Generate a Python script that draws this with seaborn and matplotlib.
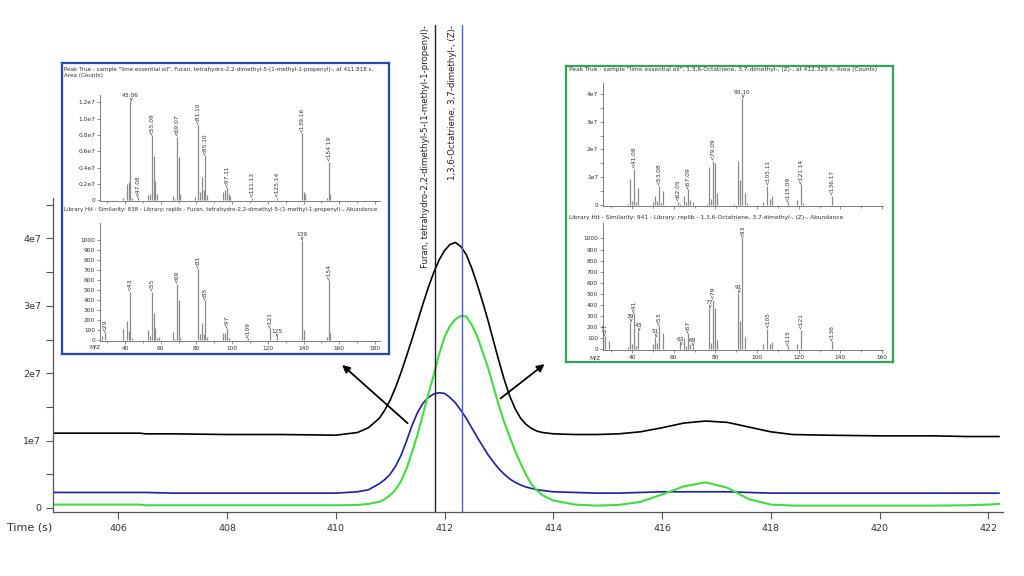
import matplotlib
matplotlib.use("Agg")
import matplotlib.pyplot as plt
import seaborn as sns
import pandas as pd

sns.set_theme(style="ticks")
plt.rcParams['font.family'] = ['DejaVu Sans']

# chromatogram (intensity in units of 1e7)
time_s = [404.8, 405.5, 406.4, 406.5, 407.0, 408.0, 409.0, 410.0, 410.4, 410.6,
          410.8, 410.9, 411.0, 411.1, 411.2, 411.3, 411.4, 411.5, 411.6, 411.7,
          411.8, 411.9, 412.0, 412.1, 412.2, 412.3, 412.4, 412.5, 412.6, 412.7,
          412.8, 412.9, 413.0, 413.1, 413.2, 413.3, 413.4, 413.5, 413.6, 413.7,
          413.8, 414.0, 414.4, 414.8, 415.2, 415.6, 416.0, 416.4, 416.8, 417.2,
          417.6, 418.0, 418.4, 419.0, 420.0, 421.0, 421.6, 422.0, 422.2]
tic = [1.11, 1.11, 1.11, 1.10, 1.10, 1.09, 1.09, 1.08, 1.12, 1.19,
       1.33, 1.45, 1.60, 1.79, 2.01, 2.25, 2.50, 2.76, 3.02, 3.27,
       3.49, 3.68, 3.82, 3.91, 3.94, 3.88, 3.76, 3.56, 3.32, 3.06,
       2.78, 2.48, 2.18, 1.90, 1.66, 1.47, 1.33, 1.24, 1.18, 1.14,
       1.12, 1.10, 1.09, 1.09, 1.10, 1.13, 1.19, 1.26, 1.29, 1.27,
       1.20, 1.13, 1.09, 1.08, 1.07, 1.07, 1.06, 1.06, 1.06]
furan_eic = [0.23, 0.23, 0.23, 0.23, 0.22, 0.22, 0.22, 0.22, 0.24, 0.27,
             0.36, 0.42, 0.50, 0.62, 0.78, 0.99, 1.22, 1.41, 1.55, 1.64,
             1.69, 1.71, 1.70, 1.64, 1.56, 1.45, 1.33, 1.19, 1.05, 0.92,
             0.79, 0.68, 0.58, 0.50, 0.43, 0.38, 0.34, 0.31, 0.29, 0.27,
             0.26, 0.24, 0.23, 0.22, 0.22, 0.23, 0.24, 0.24, 0.24, 0.24,
             0.23, 0.22, 0.22, 0.22, 0.22, 0.22, 0.22, 0.22, 0.22]
ocimene_eic = [0.05, 0.05, 0.05, 0.04, 0.04, 0.04, 0.04, 0.04, 0.045, 0.06,
               0.09, 0.13, 0.19, 0.27, 0.40, 0.58, 0.82, 1.08, 1.38, 1.68,
               1.97, 2.28, 2.54, 2.70, 2.80, 2.85, 2.84, 2.72, 2.55, 2.32,
               2.08, 1.80, 1.52, 1.27, 1.05, 0.84, 0.66, 0.49, 0.35, 0.26,
               0.19, 0.11, 0.05, 0.035, 0.045, 0.09, 0.20, 0.32, 0.38, 0.30,
               0.13, 0.05, 0.035, 0.035, 0.035, 0.035, 0.04, 0.05, 0.06]
peak_times = [411.818, 412.329]
peak_names = ["Furan, tetrahydro-2,2-dimethyl-5-(1-methyl-1-propenyl)-",
              "1,3,6-Octatriene, 3,7-dimethyl-, (Z)-"]

# left inset: furan spectrum (Peak True, x1e7) and library hit
lt_mz = [39, 41, 42, 43, 44, 47, 53, 54, 55, 56, 57, 58, 67, 68, 69, 70, 71, 79, 81, 82,
         83, 84, 85, 86, 95, 96, 97, 98, 99, 111, 125, 139, 140, 141, 153, 154, 155]
lt_val = [0.03, 0.2, 0.22, 1.22, 0.03, 0.04, 0.06, 0.08, 0.8, 0.54, 0.23, 0.07, 0.05, 0.02,
          0.78, 0.53, 0.07, 0.04, 0.93, 0.1, 0.28, 0.12, 0.55, 0.06, 0.1, 0.12, 0.16, 0.08,
          0.05, 0.03, 0.03, 0.82, 0.1, 0.08, 0.03, 0.47, 0.07]
lt_lab_mz = [43, 47, 55, 69, 81, 85, 97, 111, 125, 139, 154]
lt_lab = ["43.06", "47.08", "55.09", "69.07", "81.10", "85.10", "97.11", "111.13",
          "125.14", "139.16", "154.19"]
lt_flat = ["43.06"]

lb_mz = [27, 29, 39, 41, 42, 43, 44, 53, 54, 55, 56, 57, 58, 59, 67, 68, 69, 70, 71, 81,
         82, 83, 84, 85, 86, 95, 96, 97, 98, 109, 121, 125, 139, 140, 153, 154, 155]
lb_val = [40, 80, 107, 193, 90, 483, 20, 100, 40, 483, 267, 117, 20, 30, 80, 10, 565, 400,
          25, 717, 60, 167, 60, 400, 30, 67, 67, 117, 20, 17, 117, 33, 1000, 100, 30, 600, 67]
lb_lab_mz = [29, 43, 55, 69, 81, 85, 97, 109, 121, 125, 139, 154]
lb_lab = ["29", "43", "55", "69", "81", "85", "97", "109", "121", "125", "139", "154"]
lb_flat = ["125", "139"]

# right inset: ocimene spectrum and library hit
rt_mz = [38, 39, 40, 41, 42, 43, 50, 51, 52, 53, 54, 55, 62, 63, 65, 66, 67, 68, 69, 76,
         77, 78, 79, 80, 81, 89, 91, 92, 93, 94, 95, 103, 105, 106, 107, 115, 119, 121, 122, 136]
rt_val = [0.05, 0.92, 0.15, 1.31, 0.1, 0.6, 0.1, 0.32, 0.15, 0.69, 0.08, 0.5, 0.12, 0.05,
          0.33, 0.1, 0.57, 0.18, 0.1, 0.05, 1.35, 0.2, 1.6, 1.5, 0.43, 0.05, 1.58, 0.9, 3.85,
          0.42, 0.08, 0.12, 0.69, 0.2, 0.32, 0.1, 0.18, 0.74, 0.06, 0.33]
rt_lab_mz = [41, 53, 62, 67, 79, 93, 105, 115, 121, 136]
rt_lab = ["41.08", "53.08", "62.05", "67.09", "79.09", "93.10", "105.11", "115.09",
          "121.14", "136.17"]
rt_flat = ["93.10"]

rb_mz = [26, 27, 29, 38, 39, 40, 41, 42, 43, 50, 51, 52, 53, 55, 63, 65, 66, 67, 68, 69,
         77, 78, 79, 80, 81, 91, 92, 93, 94, 103, 105, 106, 107, 115, 119, 121, 136]
rb_val = [100, 114, 70, 20, 243, 40, 324, 25, 160, 40, 105, 55, 213, 144, 40, 100, 25, 144,
          40, 25, 370, 55, 445, 370, 85, 505, 250, 1000, 105, 40, 183, 40, 60, 25, 45, 175, 70]
rb_lab_mz = [27, 39, 41, 43, 51, 53, 63, 67, 69, 77, 79, 91, 93, 105, 115, 121, 136]
rb_lab = ["27", "39", "41", "43", "51", "53", "63", "67", "69", "77", "79", "91", "93",
          "105", "115", "121", "136"]
rb_flat = ["39", "43", "51", "63", "69", "77", "91"]

W, H = 1024, 576
fig = plt.figure(figsize=(10.24, 5.76), dpi=100)


def px_rect(x0, y0, x1, y1):
    # pixel box (top-left origin) -> figure fraction rect
    return [x0 / W, 1 - y1 / H, (x1 - x0) / W, (y1 - y0) / H]


# ---- main chromatogram ----
ax = fig.add_axes(px_rect(53, 198, 1003, 512))
chrom = pd.DataFrame({"t": time_s, "tic": tic, "furan": furan_eic, "ocimene": ocimene_eic})
sns.lineplot(data=chrom, x="t", y="tic", ax=ax, color="black", lw=1.2)
sns.lineplot(data=chrom, x="t", y="furan", ax=ax, color="#1c1ca8", lw=1.2)
sns.lineplot(data=chrom, x="t", y="ocimene", ax=ax, color="#40dd40", lw=1.5)
ax.set_xlim(404.8, 422.27)
ax.set_ylim(-0.06, 4.6)
ax.set_xticks(range(406, 423, 2))
ax.set_yticks([0, 1, 2, 3, 4])
ax.set_yticklabels(["0", "1e7", "2e7", "3e7", "4e7"])
ax.set_yticks([0.5, 1.5, 2.5, 3.5, 4.5], minor=True)
ax.tick_params(axis="both", labelsize=6.8, color="#555555", labelcolor="#333333",
               length=5, width=0.8, direction="out")
ax.tick_params(axis="y", which="minor", length=5, width=0.8, color="#555555")
ax.set_xlabel("")
ax.set_ylabel("")
for s in ["top", "right"]:
    ax.spines[s].set_visible(False)
for s in ["left", "bottom"]:
    ax.spines[s].set_color("#555555")
    ax.spines[s].set_linewidth(0.9)

top_frac = (512 - 25) / (512 - 198)
ax.axvline(peak_times[0], 0, top_frac, color="#222222", lw=1.0, clip_on=False)
ax.axvline(peak_times[1], 0, top_frac, color="#5060c8", lw=1.0, clip_on=False)
fig.text(425 / W, 1 - 25 / H, peak_names[0], rotation=90, ha="center", va="top",
         fontsize=6.2, color="#222222")
fig.text(452.5 / W, 1 - 25 / H, peak_names[1], rotation=90, ha="center", va="top",
         fontsize=6.2, color="#222222")
fig.text(7 / W, 1 - 528 / H, "Time (s)", va="center", fontsize=8, color="#333333")

ax.annotate("", xy=(410.08, 2.15), xytext=(411.36, 1.23),
            arrowprops=dict(arrowstyle="-|>", color="black", lw=1.3, mutation_scale=11),
            annotation_clip=False)
ax.annotate("", xy=(413.88, 2.16), xytext=(412.99, 1.60),
            arrowprops=dict(arrowstyle="-|>", color="black", lw=1.3, mutation_scale=11),
            annotation_clip=False)

FS = 4.2
TXT = "#333333"


def ms_panel(rect, mz, vals, lab_mz, lab, flat, xlim, ylim, yticks, yticklabels,
             xlabels, yminor=None):
    a = fig.add_axes(rect)
    a.set_facecolor("none")
    a.vlines(mz, 0, vals, color="#8a8a8a", lw=0.9)
    for m, t in zip(lab_mz, lab):
        v = vals[mz.index(m)]
        if t in flat:
            a.annotate(t + "\n\u2228", (m, v), xytext=(0, -0.8), textcoords="offset points",
                       ha="center", va="bottom", fontsize=FS, color=TXT, linespacing=0.75)
        else:
            a.annotate("<" + t, (m, v), xytext=(0, 0.3), textcoords="offset points",
                       rotation=90, ha="center", va="bottom", fontsize=FS, color=TXT)
    a.set_xlim(*xlim)
    a.set_ylim(*ylim)
    a.set_yticks(yticks)
    a.set_yticklabels(yticklabels)
    if yminor is not None:
        a.set_yticks(yminor, minor=True)
    a.set_xticks(range(40, int(xlim[1]) + 1, 20))
    a.set_xticks(range(30, int(xlim[1]) + 1, 10), minor=True)
    if not xlabels:
        a.set_xticklabels([])
    a.tick_params(axis="both", which="both", labelsize=FS, color="#666666",
                  labelcolor=TXT, length=2, width=0.5, pad=1.5)
    a.tick_params(axis="x", which="minor", length=1.2)
    for s in ["top", "right"]:
        a.spines[s].set_visible(False)
    for s in ["left", "bottom"]:
        a.spines[s].set_color("#666666")
        a.spines[s].set_linewidth(0.6)
    return a


def frame(rect, color):
    f = fig.add_axes(rect)
    f.set_facecolor("white")
    f.set_xticks([])
    f.set_yticks([])
    for s in f.spines.values():
        s.set_color(color)
        s.set_linewidth(1.6)
    return f


# ---- left inset ----
frame(px_rect(62, 63, 389, 354), "#2448b8")
ms_panel(px_rect(100, 95, 380, 201), lt_mz, lt_val, lt_lab_mz, lt_lab, lt_flat,
         (26, 182.8), (-0.01, 1.29), [0, 0.2, 0.4, 0.6, 0.8, 1.0, 1.2],
         ["0", "0.2e7", "0.4e7", "0.6e7", "0.8e7", "1.0e7", "1.2e7"], False)
ms_panel(px_rect(100, 223, 380, 341), lb_mz, lb_val, lb_lab_mz, lb_lab, lb_flat,
         (26, 182.8), (-10, 1170), list(range(0, 1001, 100)),
         [str(v) for v in range(0, 1001, 100)], True)
fig.text(64 / W, 1 - 67 / H,
         'Peak True - sample "lime essential oil", Furan, tetrahydro-2,2-dimethyl-5-'
         '(1-methyl-1-propenyl)-, at 411.818 s,\nArea (Counts)',
         fontsize=4.1, color=TXT, va="top", linespacing=1.3)
fig.text(64 / W, 1 - 210 / H,
         "Library Hit - Similarity: 838 - Library: replib - Furan, tetrahydro-2,2-dimethyl-5-"
         "(1-methyl-1-propenyl)-, Abundance", fontsize=3.95, color=TXT, va="center")
fig.text(95 / W, 1 - 347 / H, "M/Z", fontsize=FS, color=TXT, va="center", ha="center")

# ---- right inset ----
frame(px_rect(566, 66, 893, 362), "#34a35a")
ms_panel(px_rect(603, 83, 883, 206), rt_mz, rt_val, rt_lab_mz, rt_lab, rt_flat,
         (26, 160.5), (-0.04, 4.4), [0, 1, 2, 3, 4], ["0", "1e7", "2e7", "3e7", "4e7"],
         False, yminor=[0.5, 1.5, 2.5, 3.5])
ms_panel(px_rect(603, 223, 883, 350), rb_mz, rb_val, rb_lab_mz, rb_lab, rb_flat,
         (26, 160.5), (-10, 1140), list(range(0, 1001, 100)),
         [str(v) for v in range(0, 1001, 100)], True)
fig.text(569 / W, 1 - 70 / H,
         'Peak True - sample "lime essential oil", 1,3,6-Octatriene, 3,7-dimethyl-, (Z)-, '
         'at 412.329 s, Area (Counts)', fontsize=FS, color=TXT, va="center")
fig.text(569 / W, 1 - 218 / H,
         "Library Hit - Similarity: 941 - Library: replib - 1,3,6-Octatriene, 3,7-dimethyl-, "
         "(Z)-, Abundance", fontsize=FS, color=TXT, va="center")
fig.text(595 / W, 1 - 358 / H, "M/Z", fontsize=FS, color=TXT, va="center", ha="center")

fig.savefig("out.png", dpi=100)
